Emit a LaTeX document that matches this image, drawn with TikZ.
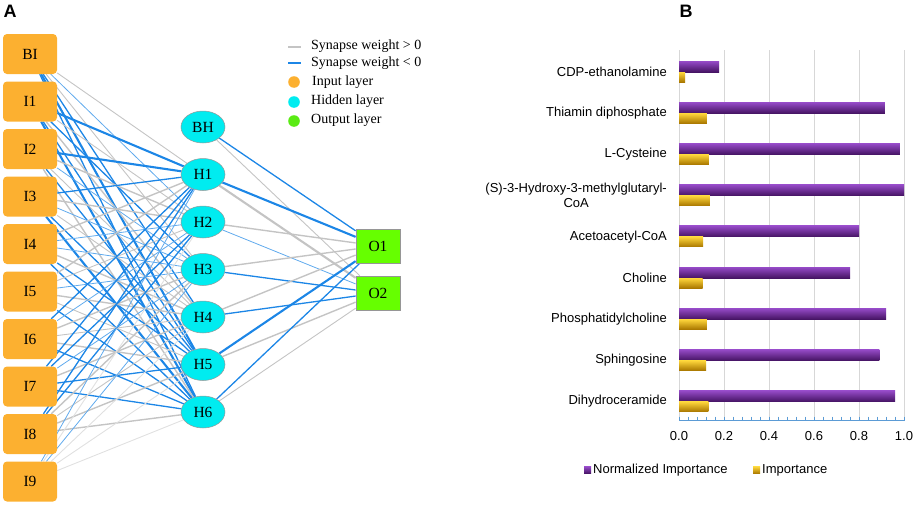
\documentclass[tikz,border=0pt]{standalone}
\usepackage{fontspec}
\setmainfont{Liberation Serif}
\setsansfont{Liberation Sans}
\usetikzlibrary{shapes.geometric}
\pgfdeclarelayer{bg}
\pgfsetlayers{bg,main}
\definecolor{inorange}{RGB}{252,176,48}
\definecolor{hidcyan}{RGB}{0,236,240}
\definecolor{outgreen}{RGB}{102,255,0}
\definecolor{lgreen}{RGB}{90,235,20}
\definecolor{negblue}{RGB}{28,134,230}
\definecolor{posgray}{RGB}{196,196,196}
\definecolor{lgray}{RGB}{224,224,224}
\definecolor{nodeborder}{RGB}{150,150,150}
\definecolor{gridgray}{RGB}{215,215,215}
\definecolor{axblue}{RGB}{91,155,213}
\definecolor{purtop}{RGB}{150,75,200}
\definecolor{purmid}{RGB}{112,45,160}
\definecolor{purbot}{RGB}{70,20,100}
\definecolor{goldtop}{RGB}{255,215,60}
\definecolor{goldmid}{RGB}{240,180,20}
\definecolor{goldbot}{RGB}{170,120,0}
\begin{document}
\begin{tikzpicture}[x=1pt,y=-1pt,
  inbox/.style={fill=inorange, rounded corners=4pt, minimum width=54pt, minimum height=40pt, inner sep=0pt, font=\fontsize{15.5}{17}\selectfont},
  hid/.style={ellipse, fill=hidcyan, draw=nodeborder, line width=0.5pt, minimum width=44pt, minimum height=32pt, inner sep=0pt, font=\fontsize{15.5}{17}\selectfont},
  outb/.style={fill=outgreen, draw=nodeborder, line width=0.8pt, minimum width=44pt, minimum height=34pt, inner sep=0pt, font=\fontsize{15.5}{17}\selectfont},
  gA/.style={draw=posgray, line width=0.9pt},
  gB/.style={draw=posgray, line width=1.4pt},
  gC/.style={draw=posgray, line width=2.1pt},
  gL/.style={draw=lgray, line width=0.9pt},
  bA/.style={draw=negblue!70, line width=0.8pt},
  bB/.style={draw=negblue, line width=1.3pt},
  bC/.style={draw=negblue, line width=2.1pt},
  lgtext/.style={anchor=west, font=\fontsize{14}{16}\selectfont, inner sep=0pt},
  cat/.style={anchor=east, font=\sffamily\fontsize{13}{15}\selectfont, inner sep=0pt, align=center},
  tick/.style={font=\sffamily\fontsize{13}{15}\selectfont, inner sep=0pt},
  panel/.style={font=\sffamily\bfseries\fontsize{18}{18}\selectfont, inner sep=0pt}
]
\useasboundingbox (0,0) rectangle (913,506);

% panel labels
\node[panel] (labA) at (10,11) {A};
\node[panel] (labB) at (686,11) {B};

% input layer
\foreach \n [count=\k from 0] in {BI,I1,I2,I3,I4,I5,I6,I7,I8,I9}
  \node[inbox] (\n) at (30,54+47.5*\k) {\n};

% hidden layer
\foreach \n [count=\k from 0] in {BH,H1,H2,H3,H4,H5,H6}
  \node[hid] (\n) at (203,127+47.5*\k) {\n};

% output layer
\node[outb] (O1) at (378,246) {O1};
\node[outb] (O2) at (378,293) {O2};

% connectors
\begin{pgfonlayer}{bg}
\foreach \a/\b/\s in {
  BI/H1/gA, BI/H2/bA, BI/H3/gA, BI/H4/bB, BI/H5/bC, BI/H6/bB,
  I1/H1/bC, I1/H2/gA, I1/H3/bB, I1/H4/gB, I1/H5/bB, I1/H6/bC,
  I2/H1/bC, I2/H2/gB, I2/H3/bA, I2/H4/gA, I2/H5/bB, I2/H6/gB,
  I3/H1/bB, I3/H2/gB, I3/H3/bA, I3/H4/gA, I3/H5/bB, I3/H6/bC,
  I4/H1/gB, I4/H2/bA, I4/H3/bA, I4/H4/gB, I4/H5/bB, I4/H6/bB,
  I5/H1/gB, I5/H2/gA, I5/H3/bA, I5/H4/gB, I5/H5/gA, I5/H6/bB,
  I6/H1/bB, I6/H2/bA, I6/H3/gB, I6/H4/gA, I6/H5/gB, I6/H6/bB,
  I7/H1/bB, I7/H2/bB, I7/H3/bA, I7/H4/gB, I7/H5/bB, I7/H6/bB,
  I8/H1/bB, I8/H2/bB, I8/H3/gB, I8/H4/gA, I8/H5/gB, I8/H6/gB,
  I9/H1/bA, I9/H2/gL, I9/H3/bA, I9/H4/gL, I9/H5/gL, I9/H6/gL,
  BH/O1/bB, BH/O2/gA, H1/O1/bC, H1/O2/gC, H2/O1/gB, H2/O2/bA,
  H3/O1/gB, H3/O2/bB, H4/O1/gB, H4/O2/bB, H5/O1/bC, H5/O2/gB,
  H6/O1/bB, H6/O2/gA}
  \draw[\s] (\a) -- (\b);
\end{pgfonlayer}

% legend A
\draw[posgray, line width=2pt] (288,47) -- (301,47);
\draw[negblue, line width=2pt] (288,63) -- (301,63);
\fill[inorange] (294,82) circle (5.8pt);
\fill[hidcyan] (294,102) circle (5.8pt);
\fill[lgreen] (294,121) circle (5.8pt);
\node[lgtext] (l1) at (311,46) {Synapse weight > 0};
\node[lgtext] (l2) at (311,63) {Synapse weight < 0};
\node[lgtext] (l3) at (312,82) {Input layer};
\node[lgtext] (l4) at (311,101) {Hidden layer};
\node[lgtext] (l5) at (311,120) {Output layer};

% panel B: grid
\foreach \i in {0,...,5}
  \draw[gridgray, line width=1pt] (679+45*\i,50) -- (679+45*\i,420);

% bars
\foreach \k/\p/\g in {0/0.178/0.027, 1/0.915/0.124, 2/0.982/0.133, 3/1.0/0.137, 4/0.80/0.107, 5/0.76/0.105, 6/0.92/0.124, 7/0.89/0.12, 8/0.96/0.13}{
  \shade[top color=purtop, middle color=purmid, bottom color=purbot] (679,61+41.2*\k) rectangle (679+225*\p,72+41.2*\k);
  \shade[top color=goldtop, middle color=goldmid, bottom color=goldbot] (679,72+41.2*\k) rectangle (679+225*\g,82+41.2*\k);
}

% category labels
\node[cat] (c0) at (667,72) {CDP-ethanolamine};
\node[cat] (c1) at (667,113.2) {Thiamin diphosphate};
\node[cat] (c2) at (667,154.4) {L-Cysteine};
\node[cat] (c3) at (667,195.6) {(S)-3-Hydroxy-3-methylglutaryl-\\CoA};
\node[cat] (c4) at (667,236.8) {Acetoacetyl-CoA};
\node[cat] (c5) at (667,278) {Choline};
\node[cat] (c6) at (667,319.2) {Phosphatidylcholine};
\node[cat] (c7) at (667,360.4) {Sphingosine};
\node[cat] (c8) at (667,401.6) {Dihydroceramide};

% axis
\draw[axblue, line width=1pt] (679,420.5) -- (904,420.5);
\foreach \i in {0,...,25}
  \draw[axblue, line width=0.8pt] (679+9*\i,416.5) -- (679+9*\i,421);
\foreach \i/\t in {0/0.0,1/0.2,2/0.4,3/0.6,4/0.8,5/1.0}
  \node[tick] (t\i) at (679+45*\i,436) {\t};

% legend B
\shade[top color=purtop, bottom color=purbot] (584,466.5) rectangle (591,473.5);
\node[anchor=west, font=\sffamily\fontsize{13}{15}\selectfont, inner sep=0pt] (lg1) at (593,470) {Normalized Importance};
\shade[top color=goldtop, bottom color=goldbot] (753,466.5) rectangle (760,473.5);
\node[anchor=west, font=\sffamily\fontsize{13}{15}\selectfont, inner sep=0pt] (lg2) at (762,470) {Importance};
\end{tikzpicture}
\end{document}
